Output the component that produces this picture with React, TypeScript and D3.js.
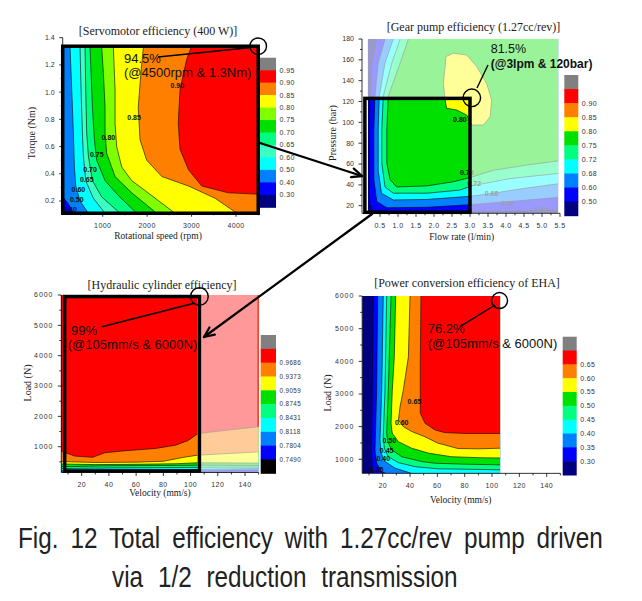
import React from 'react';
import * as d3 from 'd3';

type Pt = [number, number];
type Bounds = { x: [number, number]; y: [number, number] };

// Origin-style contour palette
const C = {
  navy: '#000080', blue: '#0000ff', dodger: '#0080ff', cyan: '#00ffff', aqua: '#3cffc4',
  spring: '#00ff80', green: '#00e000', lime: '#80ff00', yellow: '#ffff00', orange: '#ff8000',
  red: '#ff0000', gray: '#808080', black: '#000000',
};

// ---------- [Servomotor efficiency (400 W)] : speed (rpm) vs torque (Nm)
const servoBounds: Bounds = { x: [100, 4500], y: [0.11, 1.33] };
const servoBase = C.blue;
const servoFill = [C.dodger, C.cyan, C.aqua, C.spring, C.green, C.lime, C.yellow, C.orange, C.red];
// one boundary per level 0.40 .. 0.90
const servoContours: Pt[][] = [
  [[100, 0.23], [228, 0.18], [340, 0.11]],
  [[265, 1.33], [303, 1.02], [340, 0.7], [363, 0.45], [393, 0.31], [490, 0.2], [678, 0.11]],
  [[490, 1.33], [513, 1.02], [543, 0.7], [565, 0.53], [618, 0.35], [790, 0.22], [1053, 0.11]],
  [[603, 1.33], [618, 1.02], [640, 0.7], [678, 0.53], [768, 0.35], [978, 0.23], [1390, 0.11]],
  [[715, 1.33], [738, 1.14], [768, 0.89], [813, 0.65], [865, 0.5], [1053, 0.35], [1353, 0.24], [1765, 0.11]],
  [[978, 1.33], [1015, 1.14], [1053, 0.89], [1053, 0.7], [1090, 0.55], [1278, 0.38], [1653, 0.26], [2215, 0.11]],
  [[1240, 1.33], [1278, 1.02], [1278, 0.77], [1315, 0.6], [1428, 0.45], [1653, 0.35], [2103, 0.24], [2628, 0.11]],
  [[1915, 1.33], [1860, 1.14], [1800, 0.89], [1840, 0.65], [1990, 0.5], [2330, 0.38], [2930, 0.31], [3530, 0.22], [4020, 0.11]],
  [[2990, 1.33], [2890, 1.24], [2740, 1.02], [2700, 0.77], [2740, 0.58], [2930, 0.43], [3230, 0.31], [3830, 0.26], [4500, 0.25]],
];
const servoLabels: [string, number, number][] = [
  ['0.90', 2680, 1.05], ['0.85', 1706, 0.815], ['0.80', 1128, 0.665], ['0.75', 866, 0.543],
  ['0.70', 716, 0.433], ['0.65', 641, 0.354], ['0.60', 453, 0.281], ['0.50', 416, 0.212], ['0.40', 266, 0.139],
];
const servoBar = [C.gray, C.red, C.orange, C.yellow, C.lime, C.green, C.spring, C.aqua, C.cyan, C.dodger, C.blue, C.navy];
const servoBarLabels = ['0.95', '0.90', '0.85', '0.80', '0.75', '0.70', '0.65', '0.60', '0.50', '0.40', '0.30'];
const servoXTicks = [1000, 2000, 3000, 4000];
const servoXMinor = [500, 1500, 2500, 3500, 4500];
const servoYTicks = [0.2, 0.4, 0.6, 0.8, 1.0, 1.2, 1.4];
const servoYMinor = [0.3, 0.5, 0.7, 0.9, 1.1, 1.3];

// ---------- [Gear pump efficiency (1.27cc/rev)] : flow (l/min) vs pressure (bar)
const pumpBounds: Bounds = { x: [0.16, 5.45], y: [12.7, 180] };
const pumpBase = C.navy;
const pumpFill = [C.blue, C.dodger, C.cyan, C.spring, C.green];
// levels 0.50, 0.60, 0.68, 0.72, 0.75
const pumpContours: Pt[][] = [
  [[0.41, 180], [0.27, 157], [0.22, 125], [0.2, 61], [0.21, 22], [0.3, 15], [1.5, 14], [3.0, 14], [4.5, 15], [5.45, 16]],
  [[0.64, 180], [0.45, 157], [0.36, 125], [0.33, 93], [0.33, 45], [0.41, 24], [0.69, 18], [1.8, 18.5], [3.0, 21], [4.1, 24], [5.45, 28]],
  [[0.87, 180], [0.64, 157], [0.48, 125], [0.45, 93], [0.45, 54], [0.54, 32], [0.87, 25.5], [1.8, 26], [3.0, 29], [3.65, 32], [4.57, 37], [5.45, 41]],
  [[1.06, 180], [0.83, 157], [0.59, 125], [0.55, 93], [0.55, 61], [0.64, 38], [0.87, 32], [1.8, 32], [2.72, 35], [3.04, 39], [4.1, 46], [5.45, 51]],
  [[1.29, 180], [1.06, 157], [0.73, 125], [0.69, 93], [0.69, 61], [0.78, 45], [0.96, 38], [1.8, 39], [2.54, 43], [3.0, 47], [3.65, 54], [4.57, 59], [5.45, 63]],
];
// 0.80 island around the peak
const pumpPeak: Pt[] = [
  [2.33, 163], [2.54, 166.3], [2.91, 164.6], [3.19, 153.4], [3.46, 137.5], [3.6, 121.5], [3.56, 105.4],
  [3.37, 97.5], [3.05, 97.5], [2.91, 107], [2.63, 111.9], [2.35, 113.5], [2.31, 121.5], [2.26, 137.5], [2.31, 153.4],
];
const pumpLabels: [string, number, number][] = [
  ['0.80', 2.72, 103], ['0.75', 2.91, 51.7], ['0.72', 3.12, 40.8], ['0.68', 3.6, 31.9], ['0.60', 4.06, 21.6], ['0.50', 4.99, 15.9],
];
const pumpBar = [C.gray, C.red, C.orange, C.yellow, C.green, C.spring, C.cyan, C.dodger, C.blue, C.navy];
const pumpBarLabels = ['', '0.90', '0.85', '0.80', '0.75', '0.72', '0.68', '0.60', '0.50'];
const pumpXTicks = [0.5, 1.0, 1.5, 2.0, 2.5, 3.0, 3.5, 4.0, 4.5, 5.0, 5.5];
const pumpXMinor = [0.25, 0.75, 1.25, 1.75, 2.25, 2.75, 3.25, 3.75, 4.25, 4.75, 5.25];
const pumpYTicks = [20, 40, 60, 80, 100, 120, 140, 160, 180];
const pumpYMinor = [30, 50, 70, 90, 110, 130, 150, 170];

// ---------- [Hydraulic cylinder efficiency] : velocity (mm/s) vs load (N)
const cylBounds: Bounds = { x: [5, 150], y: [150, 6000] };
const cylBase = C.blue;
const cylFill = [C.dodger, C.cyan, C.spring, C.green, C.yellow, C.orange, C.red];
// levels 0.7804 .. 0.9686
const cylContours: Pt[][] = [
  [[5, 170], [40, 175], [80, 190], [105, 200], [150, 230]],
  [[5, 210], [40, 230], [80, 240], [105, 250], [150, 280]],
  [[5, 280], [40, 300], [80, 310], [105, 320], [150, 330]],
  [[5, 340], [40, 370], [80, 380], [105, 390], [150, 380]],
  [[5, 430], [30, 410], [60, 420], [90, 440], [105, 470], [150, 460]],
  [[5, 510], [30, 480], [60, 490], [80, 520], [95, 650], [105, 720], [150, 830]],
  [[5, 850], [15, 690], [28, 650], [37, 800], [50, 860], [74, 940], [89, 1050], [98, 1200], [105, 1420], [107, 1440], [150, 1660]],
];
const cylBar = [C.gray, C.red, C.orange, C.yellow, C.green, C.spring, C.cyan, C.dodger, C.blue, C.black];
const cylBarLabels = ['', '0.9686', '0.9373', '0.9059', '0.8745', '0.8431', '0.8118', '0.7804', '0.7490'];

// ---------- [Power conversion efficiency of EHA] : velocity (mm/s) vs load (N)
const ehaBounds: Bounds = { x: [5, 106], y: [570, 6000] };
const ehaBase = C.navy;
const ehaFill = [C.blue, C.dodger, C.cyan, C.spring, C.green, C.yellow, C.orange, C.red];
// levels 0.30 .. 0.65
const ehaContours: Pt[][] = [
  [[13.1, 6000], [12.4, 3300], [11.9, 1080], [12.4, 670], [13.1, 570]],
  [[16.3, 6000], [15.6, 3100], [14.4, 1290], [15.6, 880], [19.3, 620], [22.3, 570]],
  [[20.4, 6000], [19.3, 3100], [18, 1590], [18.8, 1190], [21.7, 930], [29, 730], [41, 570]],
  [[22.9, 6000], [21.7, 3100], [20.4, 1700], [21.2, 1340], [24.1, 1080], [31.4, 900], [43.7, 775], [60, 710], [106, 680]],
  [[26.1, 6000], [24.1, 3100], [22.9, 1800], [23.7, 1540], [26.6, 1290], [33.9, 1080], [48.6, 930], [58.3, 880], [80, 850], [106, 830]],
  [[29.5, 6000], [28.5, 4140], [27, 3100], [26.1, 2100], [27, 1800], [31.5, 1540], [41.2, 1340], [53.4, 1190], [70, 1080], [90, 1050], [106, 1040]],
  [[40, 6000], [38.8, 4140], [35.1, 3120], [32.7, 2610], [31.5, 2200], [35.1, 2000], [41.2, 1850], [51, 1690], [60, 1500], [75, 1330], [90, 1320], [106, 1340]],
  [[48, 6000], [47.5, 4000], [47.5, 2410], [51, 2100], [58.3, 1900], [65, 1820], [80, 1790], [106, 1790]],
];
const ehaLabels: [string, number, number][] = [
  ['0.65', 43.2, 2765], ['0.60', 33.9, 2134], ['0.50', 24.8, 1571], ['0.45', 22.9, 1255], ['0.40', 20.4, 1011], ['0.35', 15.6, 674],
];
const ehaBar = [C.gray, C.red, C.orange, C.yellow, C.green, C.spring, C.cyan, C.dodger, C.blue, C.navy];
const ehaBarLabels = ['', '0.65', '0.60', '0.55', '0.50', '0.45', '0.40', '0.35', '0.30'];

const velXTicks = [20, 40, 60, 80, 100, 120, 140];
const velXMinor = [10, 30, 50, 70, 90, 110, 130, 150];
const loadYTicks = [1000, 2000, 3000, 4000, 5000, 6000];
const loadYMinor = [500, 1500, 2500, 3500, 4500, 5500];

const SERIF = '"Liberation Serif", "Times New Roman", serif';
const SANS = '"Liberation Sans", Arial, sans-serif';

type Scale = d3.ScaleLinear<number, number>;

// close a contour boundary into the region holding the higher values
function regionOf(pts: Pt[], b: Bounds, side: 'right' | 'above'): Pt[] {
  const [x0, x1] = b.x;
  const [y0, y1] = b.y;
  const out: Pt[] = pts.slice();
  const first = pts[0];
  const last = pts[pts.length - 1];
  if (side === 'above') {
    out.push([x1, y1], [x0, y1]);
    return out;
  }
  if (last[1] <= y0 && last[0] < x1) out.push([x1, y0]);
  out.push([x1, y1]);
  if (first[0] <= x0 && first[1] < y1) out.push([x0, y1]);
  return out;
}

function Field({ id, x, y, b, base, contours, fills, side, islands = [], labels = [] }: {
  id: string; x: Scale; y: Scale; b: Bounds; base: string; contours: Pt[][]; fills: string[];
  side: 'right' | 'above'; islands?: { pts: Pt[]; fill: string }[]; labels?: [string, number, number][];
}) {
  const line = d3.line<Pt>().x(d => x(d[0])).y(d => y(d[1]));
  const px0 = x(b.x[0]), px1 = x(b.x[1]), py0 = y(b.y[1]), py1 = y(b.y[0]);
  return (
    <g>
      <defs>
        <clipPath id={id}>
          <rect x={px0} y={py0} width={px1 - px0} height={py1 - py0} />
        </clipPath>
      </defs>
      <g clipPath={`url(#${id})`}>
        <rect x={px0} y={py0} width={px1 - px0} height={py1 - py0} fill={base} />
        {contours.map((c, i) => (
          <path key={'f' + i} d={(line(regionOf(c, b, side)) || '') + 'Z'} fill={fills[i]} />
        ))}
        {islands.map((s, i) => (
          <path key={'i' + i} d={(line(s.pts) || '') + 'Z'} fill={s.fill} stroke="#000" strokeWidth={0.6} />
        ))}
        {contours.map((c, i) => (
          <path key={'l' + i} d={line(c) || ''} fill="none" stroke="#000" strokeWidth={0.6} />
        ))}
        {labels.map(([t, vx, vy], i) => (
          <text key={'t' + i} x={x(vx)} y={y(vy)} dy="0.35em" textAnchor="middle" fontSize={7}
            fontWeight="bold" fontFamily={SANS} fill="#111">{t}</text>
        ))}
      </g>
    </g>
  );
}

function Axes({ x, y, xFrom, xTo, yFrom, yTo, xTicks, xMinor, yTicks, yMinor, fmtX, fmtY, ySpacing = 0 }: {
  x: Scale; y: Scale; xFrom: number; xTo: number; yFrom: number; yTo: number;
  xTicks: number[]; xMinor: number[]; yTicks: number[]; yMinor: number[];
  fmtX: (v: number) => string; fmtY: (v: number) => string; ySpacing?: number;
}) {
  const ax = x(xFrom);
  const ay = y(yFrom);
  return (
    <g stroke="#000" strokeWidth={0.8} fontFamily={SANS} fontSize={7}>
      <line x1={ax} x2={x(xTo)} y1={ay} y2={ay} />
      <line x1={ax} x2={ax} y1={ay} y2={y(yTo)} />
      {xTicks.map(v => <line key={'xt' + v} x1={x(v)} x2={x(v)} y1={ay} y2={ay + 3.5} />)}
      {xMinor.map(v => <line key={'xm' + v} x1={x(v)} x2={x(v)} y1={ay} y2={ay + 2} />)}
      {yTicks.map(v => <line key={'yt' + v} x1={ax - 3.5} x2={ax} y1={y(v)} y2={y(v)} />)}
      {yMinor.map(v => <line key={'ym' + v} x1={ax - 2} x2={ax} y1={y(v)} y2={y(v)} />)}
      <g stroke="none" fill="#333">
        {xTicks.map(v => <text key={'xl' + v} x={x(v)} y={ay + 15} textAnchor="middle" letterSpacing={0.4}>{fmtX(v)}</text>)}
        {yTicks.map(v => <text key={'yl' + v} x={ax - 8} y={y(v)} dy="0.35em" textAnchor="end" letterSpacing={ySpacing}>{fmtY(v)}</text>)}
      </g>
    </g>
  );
}

function ColorBar({ x, y, w, h, colors, labels, fs = 7 }: {
  x: number; y: number; w: number; h: number; colors: string[]; labels: string[]; fs?: number;
}) {
  const band = d3.scaleBand<number>().domain(d3.range(colors.length)).range([y, y + h]);
  return (
    <g>
      {colors.map((c, i) => <rect key={i} x={x} y={band(i)} width={w} height={band.bandwidth() + 0.5} fill={c} />)}
      {labels.map((t, i) => t ? (
        <text key={'l' + i} x={x + w + 3.5} y={(band(i) || 0) + band.bandwidth()} dy="0.35em" fontSize={fs}
          fontFamily={SANS} fill="#333" letterSpacing={0.4}>{t}</text>
      ) : null)}
    </g>
  );
}

function Arrow({ from, to }: { from: Pt; to: Pt }) {
  const ang = Math.atan2(to[1] - from[1], to[0] - from[0]);
  const len = 11, spread = 0.42;
  const a1: Pt = [to[0] - len * Math.cos(ang - spread), to[1] - len * Math.sin(ang - spread)];
  const a2: Pt = [to[0] - len * Math.cos(ang + spread), to[1] - len * Math.sin(ang + spread)];
  return (
    <g stroke="#000" strokeWidth={2.3} fill="none" strokeLinecap="round" strokeLinejoin="round">
      <line x1={from[0]} y1={from[1]} x2={to[0]} y2={to[1]} />
      <polyline points={`${a1[0]},${a1[1]} ${to[0]},${to[1]} ${a2[0]},${a2[1]}`} />
    </g>
  );
}

const f1 = d3.format('.1f');
const f0 = d3.format('d');

export default function App() {
  // scales
  const x1 = d3.scaleLinear().domain([1000, 4000]).range([102.7, 236]);
  const y1 = d3.scaleLinear().domain([0.2, 1.4]).range([201, 37.7]);
  const x2 = d3.scaleLinear().domain([0.5, 5.5]).range([380, 560]);
  const y2 = d3.scaleLinear().domain([20, 180]).range([205.7, 39]);
  const x3 = d3.scaleLinear().domain([20, 140]).range([81.7, 245]);
  const y3 = d3.scaleLinear().domain([1000, 6000]).range([446.7, 295]);
  const x4 = d3.scaleLinear().domain([20, 140]).range([382.7, 546.7]);
  const y4 = d3.scaleLinear().domain([1000, 6000]).range([459.3, 296]);

  // pastel veil outside the highlighted pump window
  const pumpWin = { f: [0.08, 3.0], p: [12.7, 123] };
  const pOuter = `M${x2(pumpBounds.x[0])},${y2(pumpBounds.y[1])}H${x2(pumpBounds.x[1])}V${y2(pumpBounds.y[0])}H${x2(pumpBounds.x[0])}Z`;
  const pInner = `M${x2(pumpWin.f[0])},${y2(pumpWin.p[1])}H${x2(pumpWin.f[1])}V${y2(pumpWin.p[0])}H${x2(pumpWin.f[0])}Z`;
  const cylWin = { v: [7.5, 106.5], L: [200, 5950] };

  return (
    <svg width={642} height={601} style={{ position: 'absolute', left: 0, top: 0, background: '#fff' }}>
      <rect width={642} height={601} fill="#fff" />

      {/* ---------------- Servomotor ---------------- */}
      <Field id="c1" x={x1} y={y1} b={servoBounds} base={servoBase} contours={servoContours} fills={servoFill}
        side="right" labels={servoLabels} />
      <Axes x={x1} y={y1} xFrom={100} xTo={4500} yFrom={0.11} yTo={1.4} xTicks={servoXTicks} xMinor={servoXMinor}
        yTicks={servoYTicks} yMinor={servoYMinor} fmtX={f0} fmtY={f1} />
      <rect x={x1(servoBounds.x[0])} y={y1(servoBounds.y[1]) - 1} width={x1(servoBounds.x[1]) - x1(servoBounds.x[0])}
        height={y1(servoBounds.y[0]) - y1(servoBounds.y[1]) + 1} fill="none" stroke="#000" strokeWidth={3.5} />
      <ColorBar x={260} y={57.7} w={16} h={149.6} colors={servoBar} labels={servoBarLabels} />
      <text x={158} y={35} textAnchor="middle" fontFamily={SERIF} fontSize={12} fill="#222">[Servomotor efficiency (400 W)]</text>
      <text x={158} y={239} textAnchor="middle" fontFamily={SERIF} fontSize={9.5} fill="#222">Rotational speed (rpm)</text>
      <text transform="translate(35,133) rotate(-90)" textAnchor="middle" fontFamily={SERIF} fontSize={10} fill="#222">Torque (Nm)</text>
      <circle cx={x1(4500)} cy={y1(1.33) - 1} r={8.3} fill="none" stroke="#000" strokeWidth={1.4} />
      <line x1={158} y1={57} x2={251} y2={47.5} stroke="#000" strokeWidth={1.4} />
      <text x={124} y={63} fontFamily={SANS} fontSize={13} fill="#111">94.5%</text>
      <text x={124} y={77} fontFamily={SANS} fontSize={13} fill="#111">(@4500rpm &amp; 1.3Nm)</text>

      {/* ---------------- Gear pump ---------------- */}
      <Field id="c2" x={x2} y={y2} b={pumpBounds} base={pumpBase} contours={pumpContours} fills={pumpFill}
        side="right" islands={[{ pts: pumpPeak, fill: C.yellow }]} labels={pumpLabels} />
      <path d={pOuter + pInner} fillRule="evenodd" fill="#fff" fillOpacity={0.6} />
      <Axes x={x2} y={y2} xFrom={0} xTo={5.5} yFrom={12.7} yTo={180} xTicks={pumpXTicks} xMinor={pumpXMinor}
        yTicks={pumpYTicks} yMinor={pumpYMinor} fmtX={f1} fmtY={f0} />
      <rect x={x2(pumpWin.f[0])} y={y2(pumpWin.p[1])} width={x2(pumpWin.f[1]) - x2(pumpWin.f[0])}
        height={y2(pumpWin.p[0]) - y2(pumpWin.p[1]) - 1} fill="none" stroke="#000" strokeWidth={3.5} />
      <ColorBar x={564.3} y={75} w={14} h={140.7} colors={pumpBar} labels={pumpBarLabels} />
      <text x={473.5} y={31} textAnchor="middle" fontFamily={SERIF} fontSize={12} fill="#222">[Gear pump efficiency (1.27cc/rev)]</text>
      <text x={461.7} y={240} textAnchor="middle" fontFamily={SERIF} fontSize={9.5} fill="#222">Flow rate (l/min)</text>
      <text transform="translate(336,133) rotate(-90)" textAnchor="middle" fontFamily={SERIF} fontSize={10} fill="#222">Pressure (bar)</text>
      <circle cx={x2(3.05)} cy={y2(123.5)} r={8.8} fill="none" stroke="#000" strokeWidth={1.4} />
      <line x1={477} y1={88} x2={488} y2={65} stroke="#000" strokeWidth={1.4} />
      <text x={490.7} y={53} fontFamily={SANS} fontSize={12.5} fill="#111">81.5%</text>
      <text x={490.7} y={67.5} fontFamily={SANS} fontSize={12} fontWeight="bold" fill="#111">(@3lpm &amp; 120bar)</text>

      {/* ---------------- Hydraulic cylinder ---------------- */}
      <Field id="c3" x={x3} y={y3} b={cylBounds} base={cylBase} contours={cylContours} fills={cylFill} side="above" />
      <rect x={x3(105)} y={y3(6000)} width={x3(150) - x3(105)} height={y3(150) - y3(6000)} fill="#fff" fillOpacity={0.6} />
      <line x1={x3(150) - 0.5} x2={x3(150) - 0.5} y1={y3(6000)} y2={y3(1660)} stroke={C.red} strokeWidth={1} />
      <line x1={x3(5) + 0.5} x2={x3(5) + 0.5} y1={y3(6000)} y2={y3(850)} stroke={C.red} strokeWidth={1} />
      <Axes x={x3} y={y3} xFrom={5} xTo={150} yFrom={150} yTo={6000} xTicks={velXTicks} xMinor={velXMinor}
        yTicks={loadYTicks} yMinor={loadYMinor} fmtX={f0} fmtY={f0} ySpacing={0.9} />
      <rect x={x3(cylWin.v[0])} y={y3(cylWin.L[1])} width={x3(cylWin.v[1]) - x3(cylWin.v[0])}
        height={y3(cylWin.L[0]) - y3(cylWin.L[1])} fill="none" stroke="#000" strokeWidth={3.5} />
      <ColorBar x={260.7} y={335} w={15.3} h={138.3} colors={cylBar} labels={cylBarLabels} fs={6.3} />
      <text x={162} y={289} textAnchor="middle" fontFamily={SERIF} fontSize={12} fill="#222">[Hydraulic cylinder efficiency]</text>
      <text x={160} y={496} textAnchor="middle" fontFamily={SERIF} fontSize={9.5} fill="#222">Velocity (mm/s)</text>
      <text transform="translate(31,383) rotate(-90)" textAnchor="middle" fontFamily={SERIF} fontSize={10} fill="#222">Load (N)</text>
      <circle cx={x3(cylWin.v[1])} cy={y3(cylWin.L[1])} r={8.8} fill="none" stroke="#000" strokeWidth={1.4} />
      <line x1={102} y1={326.7} x2={195} y2={303} stroke="#000" strokeWidth={1.4} />
      <text x={71} y={335} fontFamily={SANS} fontSize={13} fill="#111">99%</text>
      <text x={67.7} y={348.5} fontFamily={SANS} fontSize={13} fill="#111">(@105mm/s &amp; 6000N)</text>

      {/* ---------------- Power conversion of EHA ---------------- */}
      <Field id="c4" x={x4} y={y4} b={ehaBounds} base={ehaBase} contours={ehaContours} fills={ehaFill}
        side="right" labels={ehaLabels} />
      <Axes x={x4} y={y4} xFrom={5} xTo={150} yFrom={570} yTo={6000} xTicks={velXTicks} xMinor={velXMinor}
        yTicks={loadYTicks} yMinor={loadYMinor.slice(1)} fmtX={f0} fmtY={f0} ySpacing={0.9} />
      <ColorBar x={562.7} y={336.7} w={14} h={138.3} colors={ehaBar} labels={ehaBarLabels} />
      <text x={467} y={287} textAnchor="middle" fontFamily={SERIF} fontSize={12} fill="#222">[Power conversion efficiency of EHA]</text>
      <text x={460.7} y={503} textAnchor="middle" fontFamily={SERIF} fontSize={9.5} fill="#222">Velocity (mm/s)</text>
      <text transform="translate(331,393) rotate(-90)" textAnchor="middle" fontFamily={SERIF} fontSize={10} fill="#222">Load (N)</text>
      <circle cx={x4(105.5)} cy={y4(5860)} r={8} fill="none" stroke="#000" strokeWidth={1.4} />
      <line x1={460} y1={326.7} x2={495} y2={305} stroke="#000" strokeWidth={1.4} />
      <text x={427.7} y={333} fontFamily={SANS} fontSize={13} fill="#111">76.2%</text>
      <text x={427.7} y={348} fontFamily={SANS} fontSize={13} fill="#111">(@105mm/s &amp; 6000N)</text>

      {/* ---------------- linking arrows ---------------- */}
      <Arrow from={[260, 143]} to={[362, 176]} />
      <Arrow from={[372, 214]} to={[204, 337]} />

      {/* ---------------- caption (narrow glyphs, wide word gaps) ---------------- */}
      <text transform="translate(18,548) scale(0.81,1)" fontFamily={SANS} fontSize={30} fill="#222" style={{ wordSpacing: '6.4px' }}>
        Fig. 12 Total efficiency with 1.27cc/rev pump driven
      </text>
      <text transform="translate(112,587) scale(0.81,1)" fontFamily={SANS} fontSize={30} fill="#222" style={{ wordSpacing: '10px' }}>
        via 1/2 reduction transmission
      </text>
    </svg>
  );
}
